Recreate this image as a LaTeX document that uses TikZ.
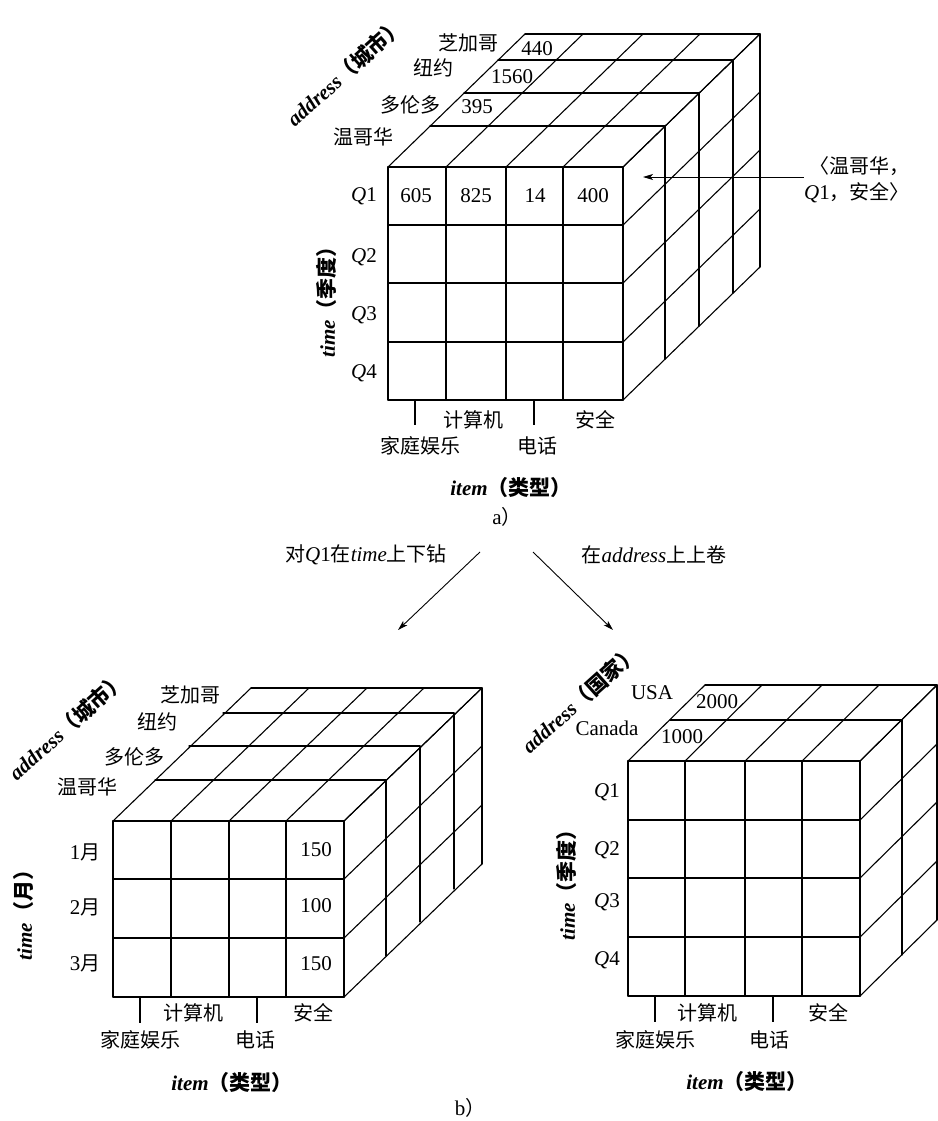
\documentclass[tikz,border=0pt]{standalone}
\usepackage{fontspec}
\setmainfont{Liberation Serif}
\newfontfamily\cjk{Noto Sans CJK SC}
\usetikzlibrary{arrows.meta}
\newcommand\zh[1]{{\cjk\fontsize{20}{24}\selectfont #1}}
\newcommand\axislab[2]{\textbf{\textit{#1}}{\cjk\bfseries #2}}
% #1 column xs, #2 row ys, #3 x-left, #4 x-right, #5 y-top, #6 y-bottom, #7 layer offsets dx/dy, #8 full depth offset
\newcommand\cubegrid[8]{%
  \foreach \x in {#1} \draw[gridline] (\x,#5) -- (\x,#6);
  \foreach \y in {#2} \draw[gridline] (#3,\y) -- (#4,\y);
  \foreach \x in {#1} \draw[gridline] (\x,#5) -- ++(#8);
  \foreach \y in {#2} \draw[gridline] (#4,\y) -- ++(#8);
  \foreach \dx/\dy in {#7} {%
    \draw[gridline] ({#3+\dx},{#5+\dy}) -- ({#4+\dx},{#5+\dy});
    \draw[gridline] ({#4+\dx},{#5+\dy}) -- ({#4+\dx},{#6+\dy});
  }%
}
\begin{document}
\begin{tikzpicture}[x=1pt,y=-1pt,
  gridline/.style={line width=1.1pt, line cap=round},
  lab/.style={inner sep=0pt, font=\fontsize{21}{25}\selectfont},
  tickline/.style={line width=1.1pt},
  conn/.style={line width=0.9pt, -{Stealth[length=10pt,width=6pt,inset=2.5pt]}}]
\useasboundingbox (0,0) rectangle (937,1121);

% ---------------- cube a ----------------
\cubegrid{388,446,506,563,623}{167,225,283,342,400}{388}{623}{167}{400}%
  {0/0,42/-41,76/-74,110/-107,137/-133}{137,-133}
\node[lab] (aC1) at (468,43) {\zh{芝加哥}};
\node[lab] (aC2) at (433,68) {\zh{纽约}};
\node[lab] (aC3) at (410,105) {\zh{多伦多}};
\node[lab] (aC4) at (363,137) {\zh{温哥华}};
\node[lab] (aV1) at (537,49) {440};
\node[lab] (aV2) at (512,77) {1560};
\node[lab] (aV3) at (477,107) {395};
\node[lab, rotate=42] (aAddr) at (345,72) {\axislab{address}{（城市）}};
\node[lab] (aQ1) at (364,196) {\textit{Q}1};
\node[lab] (aQ2) at (364,257) {\textit{Q}2};
\node[lab] (aQ3) at (364,315) {\textit{Q}3};
\node[lab] (aQ4) at (364,373) {\textit{Q}4};
\node[lab, rotate=90] (aTime) at (327,297) {\axislab{time}{（季度）}};
\node[lab] (aF1) at (416,196) {605};
\node[lab] (aF2) at (476,196) {825};
\node[lab] (aF3) at (535,196) {14};
\node[lab] (aF4) at (593,196) {400};
\draw[tickline] (415,400) -- (415,425);
\draw[tickline] (534,400) -- (534,425);
\node[lab] (aI2) at (473,420) {\zh{计算机}};
\node[lab] (aI4) at (595,420) {\zh{安全}};
\node[lab] (aI1) at (420,446) {\zh{家庭娱乐}};
\node[lab] (aI3) at (537,446) {\zh{电话}};
\node[lab] (aItem) at (511,488) {\axislab{item}{（类型）}};
\node[lab] (capA) at (507,517) {a\zh{）}};
\coordinate (tgt) at (643,177);
\node[lab, align=right, font=\fontsize{21}{26}\selectfont] (ann) at (857,180)
  {\zh{〈温哥华，}\\\textit{Q}1\zh{，安全〉}};
\draw[conn] (tgt -| ann.west) -- (tgt);

% ---------------- transition arrows ----------------
\node[lab] (drill) at (366,555) {\zh{对}\textit{Q}1\zh{在}\textit{time}\zh{上下钻}};
\node[lab] (roll) at (654,555) {\zh{在}\textit{address}\zh{上上卷}};
\coordinate (d0) at (480,552);
\coordinate (d1) at (398,630);
\coordinate (r0) at (533,552);
\coordinate (r1) at (613,630);
\draw[conn] (d0) -- (d1);
\draw[conn] (r0) -- (r1);

% ---------------- cube b left ----------------
\cubegrid{113,171,229,286,344}{821,879,938,997}{113}{344}{821}{997}%
  {0/0,42/-41,76/-75,110/-108,138/-133}{138,-133}
\node[lab] (bC1) at (190,695) {\zh{芝加哥}};
\node[lab] (bC2) at (157,722) {\zh{纽约}};
\node[lab] (bC3) at (134,757) {\zh{多伦多}};
\node[lab] (bC4) at (87,787) {\zh{温哥华}};
\node[lab, rotate=42] (bAddr) at (67,726) {\axislab{address}{（城市）}};
\node[lab] (bM1) at (85,852) {1\zh{月}};
\node[lab] (bM2) at (85,907) {2\zh{月}};
\node[lab] (bM3) at (85,963) {3\zh{月}};
\node[lab] (bV1) at (316,850) {150};
\node[lab] (bV2) at (316,906) {100};
\node[lab] (bV3) at (316,964) {150};
\node[lab, rotate=90] (bTime) at (24,910) {\axislab{time}{（月）}};
\draw[tickline] (140,997) -- (140,1023);
\draw[tickline] (257,997) -- (257,1023);
\node[lab] (bI2) at (193,1013) {\zh{计算机}};
\node[lab] (bI4) at (313,1013) {\zh{安全}};
\node[lab] (bI1) at (140,1040) {\zh{家庭娱乐}};
\node[lab] (bI3) at (255,1040) {\zh{电话}};
\node[lab] (bItem) at (232,1083) {\axislab{item}{（类型）}};
\node[lab] (capB) at (470,1108) {b\zh{）}};

% ---------------- cube b right ----------------
\cubegrid{628,685,745,802,860}{761,820,878,937,996}{628}{860}{761}{996}%
  {0/0,42/-41,77/-76}{77,-76}
\node[lab] (cU1) at (652,693) {USA};
\node[lab] (cU2) at (607,728) {Canada};
\node[lab] (cV1) at (717,702) {2000};
\node[lab] (cV2) at (682,737) {1000};
\node[lab, rotate=42] (cAddr) at (580,699) {\axislab{address}{（国家）}};
\node[lab] (cQ1) at (607,792) {\textit{Q}1};
\node[lab] (cQ2) at (607,850) {\textit{Q}2};
\node[lab] (cQ3) at (607,902) {\textit{Q}3};
\node[lab] (cQ4) at (607,960) {\textit{Q}4};
\node[lab, rotate=90] (cTime) at (567,880) {\axislab{time}{（季度）}};
\draw[tickline] (655,996) -- (655,1022);
\draw[tickline] (773,996) -- (773,1022);
\node[lab] (cI2) at (707,1013) {\zh{计算机}};
\node[lab] (cI4) at (828,1013) {\zh{安全}};
\node[lab] (cI1) at (655,1040) {\zh{家庭娱乐}};
\node[lab] (cI3) at (769,1040) {\zh{电话}};
\node[lab] (cItem) at (747,1082) {\axislab{item}{（类型）}};
\end{tikzpicture}
\end{document}
